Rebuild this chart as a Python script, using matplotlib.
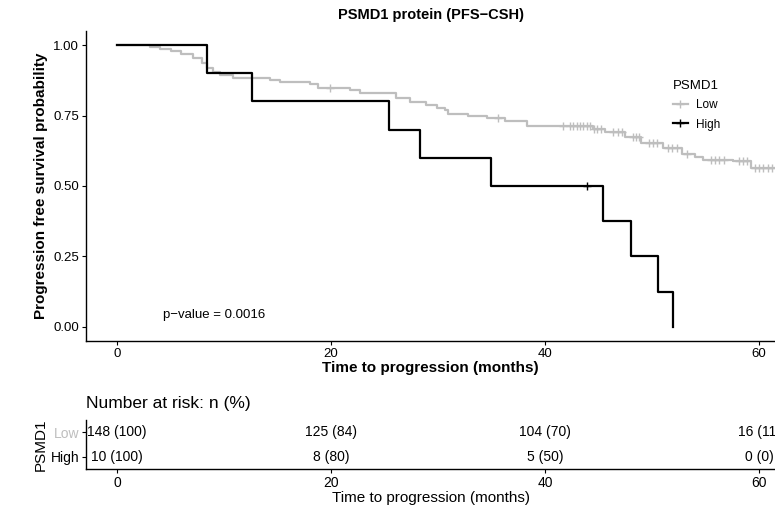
import matplotlib
matplotlib.use("Agg")
import matplotlib.pyplot as plt
from matplotlib.lines import Line2D
import numpy as np

plt.rcParams['font.family'] = ['Liberation Sans', 'DejaVu Sans']

# ---- data ----
title = "PSMD1 protein (PFS\u2212CSH)"
groups = ["Low", "High"]
group_colors = ["#BEBEBE", "#000000"]

# Low group: step times and survival after each step
low_times = [0, 3.1, 4.0, 5.0, 6.0, 7.1, 7.9, 8.4, 9.0, 9.6, 10.8, 14.3, 15.2, 18.0, 18.8,
             21.8, 22.7, 26.1, 27.4, 28.9, 29.9, 30.7, 30.9, 32.8, 34.6, 36.3, 38.3,
             44.5, 45.6, 47.5, 49.0, 51.0, 52.8, 54.0, 54.8, 57.6, 59.3]
low_surv = [1.0, 0.993, 0.986, 0.980, 0.970, 0.953, 0.936, 0.919, 0.905, 0.893, 0.882, 0.875,
            0.869, 0.862, 0.848, 0.840, 0.830, 0.812, 0.799, 0.786, 0.777, 0.768, 0.756,
            0.750, 0.740, 0.730, 0.714, 0.703, 0.690, 0.675, 0.654, 0.636, 0.612, 0.604,
            0.594, 0.588, 0.563]
low_end = 61.4
low_censor = [19.9, 35.6, 41.7, 42.3, 42.6, 43.0, 43.3, 43.6, 43.9, 44.2, 44.6, 44.9, 45.2,
              46.4, 46.8, 47.2, 48.2, 48.5, 48.8, 49.7, 50.1, 50.5, 51.5, 51.9, 52.3,
              53.3, 55.5, 55.9, 56.3, 56.7, 58.1, 58.5, 58.9, 59.6, 60.0, 60.4, 60.8, 61.2]

# High group
high_times = [0, 8.4, 12.6, 25.4, 28.3, 35.0, 45.4, 48.0, 50.6, 52.0]
high_surv = [1.0, 0.9, 0.8, 0.7, 0.6, 0.5, 0.375, 0.25, 0.125, 0.0]
high_censor = [43.9]

pvalue_text = "p\u2212value = 0.0016"

risk_times = [0, 20, 40, 60]
risk_low = ["148 (100)", "125 (84)", "104 (70)", "16 (11)"]
risk_high = ["10 (100)", "8 (80)", "5 (50)", "0 (0)"]

xticks = [0, 20, 40, 60]
yticks = [0.0, 0.25, 0.5, 0.75, 1.0]
ytick_labels = ["0.00", "0.25", "0.50", "0.75", "1.00"]
xlim = (-2.9, 61.5)

# ---- figure ----
W, H = 775, 520
fig = plt.figure(figsize=(W / 100, H / 100), dpi=100)

def fx(px):
    return px / W

def fy(py):
    return 1 - py / H

ax = fig.add_axes([fx(86), fy(341), fx(775) - fx(86), fy(31) - fy(341)])
ax2 = fig.add_axes([fx(86), fy(469), fx(775) - fx(86), fy(420) - fy(469)])

def step_value(times, surv, t):
    idx = np.searchsorted(times, t, side='right') - 1
    return surv[idx]

lw = 1.6
# Low
lt = list(low_times) + [low_end]
ls_ = list(low_surv) + [low_surv[-1]]
ax.step(lt, ls_, where='post', color=group_colors[0], lw=lw, zorder=2)
ax.plot(low_censor, [step_value(low_times, low_surv, t) for t in low_censor],
        linestyle='none', marker='+', ms=6, mew=1.0, color=group_colors[0], zorder=2)
# High
ax.step(high_times, high_surv, where='post', color=group_colors[1], lw=lw, zorder=3)
ax.plot(high_censor, [step_value(high_times, high_surv, t) for t in high_censor],
        linestyle='none', marker='+', ms=6, mew=1.0, color=group_colors[1], zorder=3)

ax.set_xlim(*xlim)
ax.set_ylim(-0.05, 1.05)
ax.set_xticks(xticks)
ax.set_xticklabels([str(v) for v in xticks])
ax.set_yticks(yticks)
ax.set_yticklabels(ytick_labels)
for s in ['top', 'right']:
    ax.spines[s].set_visible(False)
for s in ['left', 'bottom']:
    ax.spines[s].set_linewidth(1.0)
    ax.spines[s].set_color('black')
ax.tick_params(axis='both', length=3, width=0.8, labelsize=9.5, colors='black', pad=2)
ax.set_xlabel("Time to progression (months)", fontsize=11, fontweight='bold', labelpad=1)
ax.set_ylabel("Progression free survival probability", fontsize=11, fontweight='bold', labelpad=4)
ax.set_title(title, fontsize=10.5, fontweight='bold', pad=9)
ax.text(9.1, 0.043, pvalue_text, ha='center', va='center', fontsize=9.5)

handles = [Line2D([0], [0], color=c, lw=lw, marker='+', ms=6, mew=1.0) for c in group_colors]
ax_w = fx(775) - fx(86)
leg = ax.legend(handles, groups, title="PSMD1", loc='upper left', frameon=False,
                bbox_to_anchor=((fx(662) - fx(86)) / ax_w, 0.875),
                fontsize=8.5, title_fontsize=9.5, handlelength=1.3, handletextpad=0.7,
                labelspacing=0.6)
leg._legend_box.align = "left"

# ---- risk table ----
ax2.set_xlim(*xlim)
ax2.set_ylim(0.5, 2.5)
for t, lo, hi in zip(risk_times, risk_low, risk_high):
    ax2.text(t, 2, lo, ha='center', va='center', fontsize=10, color='black', clip_on=False)
    ax2.text(t, 1, hi, ha='center', va='center', fontsize=10, color='black', clip_on=False)
ax2.set_yticks([2, 1])
ax2.set_yticklabels(groups)
for lab, c in zip(ax2.get_yticklabels(), group_colors):
    lab.set_color(c)
ax2.set_xticks(xticks)
ax2.set_xticklabels([str(v) for v in xticks])
for s in ['top', 'right']:
    ax2.spines[s].set_visible(False)
for s in ['left', 'bottom']:
    ax2.spines[s].set_linewidth(1.0)
    ax2.spines[s].set_color('black')
ax2.tick_params(axis='both', length=3, width=0.8, labelsize=10, pad=2)
ax2.tick_params(axis='x', colors='black')
ax2.set_xlabel("Time to progression (months)", fontsize=11, labelpad=1)
ax2.set_ylabel("PSMD1", fontsize=11, labelpad=2)
ax2.text(0, 1.18, "Number at risk: n (%)", transform=ax2.transAxes, ha='left', va='bottom',
         fontsize=12.5)

fig.savefig("out.png", dpi=100)
